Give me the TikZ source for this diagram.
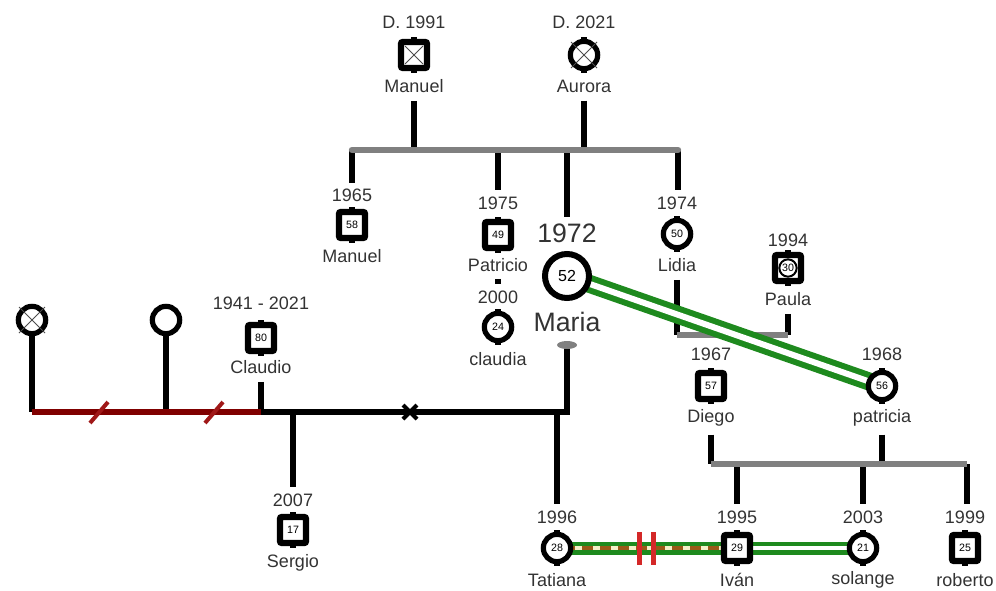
\documentclass[tikz,border=0pt]{standalone}
\usepackage{fontspec}
\setmainfont{Liberation Sans}
\usetikzlibrary{calc,backgrounds,shapes.geometric}
\definecolor{txt}{HTML}{333333}
\definecolor{gbar}{HTML}{808080}
\definecolor{dred}{HTML}{800000}
\definecolor{slashc}{HTML}{A01818}
\definecolor{grn}{HTML}{1E8A1E}
\definecolor{brn}{HTML}{9A5A18}
\definecolor{cream}{HTML}{F4F0C8}
\definecolor{rbar}{HTML}{D42828}
\begin{document}
\begin{tikzpicture}[x=0.75pt,y=-0.75pt,
 lbl/.style={text=txt,font=\fontsize{13.5}{15}\selectfont,inner sep=0pt},
 biglbl/.style={text=txt,font=\fontsize{20}{22}\selectfont,inner sep=0pt},
 sq/.style={draw=black,line width=4.8pt,rectangle,rounded corners=1.5pt,minimum size=19.5pt,inner sep=0pt,font=\fontsize{8}{9}\selectfont,fill=white},
 ci/.style={draw=black,line width=3.9pt,circle,minimum size=20.5pt,inner sep=0pt,font=\fontsize{8}{9}\selectfont,fill=white},
 conn/.style={line width=4.3pt,black},
 gconn/.style={line width=4.8pt,gbar},
 xmark/.style={line width=0.6pt,black!70},
]
\useasboundingbox (0,0) rectangle (996,590);

% ---- grandparents
\node[lbl] (gpMy) at (414,22) {D. 1991};
\node[sq] (gpM) at (414,55) {};
\node[lbl] (gpMn) at (414,86) {Manuel};
\node[lbl] (gpAy) at (584,22) {D. 2021};
\node[ci] (gpA) at (584,55) {};
\node[lbl] (gpAn) at (584,86) {Aurora};
\draw[xmark] ($(gpM.center)+(-9,-9)$) -- ($(gpM.center)+(9,9)$);
\draw[xmark] ($(gpM.center)+(-9,9)$) -- ($(gpM.center)+(9,-9)$);
\draw[xmark] ($(gpA.center)+(-13,-13)$) -- ($(gpA.center)+(13,13)$);
\draw[xmark] ($(gpA.center)+(-13,13)$) -- ($(gpA.center)+(13,-13)$);

% ---- children of Manuel & Aurora
\node[lbl] (manY) at (352,195) {1965};
\node[sq] (manuel) at (352,225) {58};
\node[lbl] (manN) at (352,256) {Manuel};

\node[lbl] (patY) at (498,203) {1975};
\node[sq] (patricio) at (498,235) {49};
\node[lbl] (patN) at (498,265) {Patricio};

\node[lbl] (claY) at (498,297) {2000};
\node[ci] (claudia) at (498,327) {24};
\node[lbl] (claN) at (498,359) {claudia};

\node[biglbl] (marY) at (567,233) {1972};
\node[draw=black,line width=4.5pt,circle,minimum size=33pt,inner sep=0pt,fill=white,font=\fontsize{12}{13}\selectfont] (maria) at (567,276) {52};
\node[biglbl] (marN) at (567,322) {Maria};
\node[ellipse,fill=gbar,minimum width=15pt,minimum height=6pt,inner sep=0pt] (marE) at (567,345) {};

\node[lbl] (lidY) at (677,203) {1974};
\node[ci] (lidia) at (677,234) {50};
\node[lbl] (lidN) at (677,265) {Lidia};

\node[lbl] (pauY) at (788,240) {1994};
\node[sq] (paula) at (788,268) {};
\node[circle,draw=black,line width=1.5pt,fill=white,minimum size=13pt,inner sep=0pt,font=\fontsize{8}{9}\selectfont] (paulaC) at (788,268) {30};
\node[lbl] (pauN) at (788,299) {Paula};

\node[lbl] (dieY) at (711,354) {1967};
\node[sq] (diego) at (711,386) {57};
\node[lbl] (dieN) at (711,418) {Diego};

\node[lbl] (ptaY) at (882,354) {1968};
\node[ci] (patricia) at (882,386) {56};
\node[lbl] (ptaN) at (882,418) {patricia};

% ---- bottom row
\node[lbl] (tatY) at (557,517) {1996};
\node[ci] (tatiana) at (557,548) {28};
\node[lbl] (tatN) at (557,580) {Tatiana};

\node[lbl] (ivaY) at (737,517) {1995};
\node[sq] (ivan) at (737,548) {29};
\node[lbl] (ivaN) at (737,580) {Iván};

\node[lbl] (solY) at (863,517) {2003};
\node[ci] (solange) at (863,548) {21};
\node[lbl] (solN) at (863,580) {solange};

\node[lbl] (robY) at (965,517) {1999};
\node[sq] (roberto) at (965,548) {25};
\node[lbl] (robN) at (965,580) {roberto};

% ---- left part
\node[ci] (lx) at (32,320) {};
\draw[xmark] ($(lx.center)+(-13,-13)$) -- ($(lx.center)+(13,13)$);
\draw[xmark] ($(lx.center)+(-13,13)$) -- ($(lx.center)+(13,-13)$);
\node[ci] (lo) at (166,320) {};
\node[lbl] (cldY) at (261,303) {1941 - 2021};
\node[sq] (claudio) at (261,338) {80};
\node[lbl] (cldN) at (261,367) {Claudio};

\node[lbl] (serY) at (293,500) {2007};
\node[sq] (sergio) at (293,530) {17};
\node[lbl] (serN) at (293,563) {Sergio};

% tabs
\foreach \n in {gpM,gpA,manuel,patricio,claudia,lidia,paula,diego,patricia,tatiana,ivan,solange,roberto,sergio,claudio}{
  \fill (\n.north) ++(-3,-1.5) rectangle ++(6,3);
  \fill (\n.south) ++(-3,-1.5) rectangle ++(6,3);
}

% ---- coordinates
\coordinate (b1L) at (352,150);
\coordinate (b1R) at (678,150);
\coordinate (b2L) at (677,335);
\coordinate (b2R) at (788,335);
\coordinate (b3L) at (711,464);
\coordinate (b3R) at (967,464);
\coordinate (hL) at (32,412);
\coordinate (hC) at (261,412);
\coordinate (hR) at (567,412);

\begin{pgfonlayer}{background}
 \fill[white] (0,0) rectangle (996,590);
 % top family
 \draw[conn] ($(gpMn.south)+(0,8)$) -- (gpMn.south |- b1L);
 \draw[conn] ($(gpAn.south)+(0,8)$) -- (gpAn.south |- b1L);
 \draw[conn] (b1L) -- ($(manY.north)+(0,-5)$);
 \draw[conn] (patY.north |- b1L) -- ($(patY.north)+(0,-6)$);
 \draw[conn] (marY.north |- b1L) -- ($(marY.north)+(0,-6)$);
 \draw[conn] (b1R) -- ($(b1R|-lidY.north)+(0,-6)$);
 \draw[gconn,line cap=round] (b1L) -- (b1R);
 % Patricio -> claudia
 \draw[conn] ($(patN.south)+(0,7)$) -- ($(claY.north)+(0,-6)$);
 % Lidia & Paula
 \draw[conn] ($(lidN.south)+(0,8)$) -- (b2L);
 \draw[conn] ($(pauN.south)+(0,8)$) -- (b2R);
 \draw[gconn] (b2L) -- (b2R);
 % Diego & patricia
 \draw[conn] ($(dieN.south)+(0,8)$) -- (dieN.south |- b3L);
 \draw[conn] ($(ptaN.south)+(0,8)$) -- (ptaN.south |- b3L);
 \draw[conn] (ivaY.north |- b3L) -- ($(ivaY.north)+(0,-6)$);
 \draw[conn] (solY.north |- b3L) -- ($(solY.north)+(0,-6)$);
 \draw[conn] (b3R) -- ($(b3R|-robY.north)+(0,-6)$);
 \draw[gconn] (b3L) -- (b3R);
 % Maria - patricia green double
 \draw[grn,line width=13.5pt] (maria.center) -- (patricia.center);
 \draw[white,line width=4.5pt] (maria.center) -- (patricia.center);
 % left family
 \draw[conn] (lx.center) -- (hL);
 \draw[conn] (lo.center) -- (lo.center |- hL);
 \draw[conn] ($(cldN.south)+(0,8)$) -- (hC);
 \draw[conn] (serY.north |- hC) -- ($(serY.north)+(0,-6)$);
 \draw[conn] (tatY.north |- hC) -- ($(tatY.north)+(0,-6)$);
 \draw[conn] (hC) -- (hR) -- (marE.center);
 \draw[dred,line width=4.8pt] (hL) -- (hC);
 \draw[slashc,line width=3pt] ($(hL)+(58,11)$) -- ($(hL)+(76,-10)$);
 \draw[slashc,line width=3pt] ($(hL)+(173,11)$) -- ($(hL)+(191,-10)$);
 \draw[black,line width=3pt] (403,405) -- (417,419) (403,419) -- (417,405);
 % Tatiana - Ivan
 \draw[grn,line width=9.75pt] (tatiana.center) -- (ivan.center);
 \draw[brn,line width=3pt] (tatiana.center) -- (ivan.center);
 \draw[cream,line width=3pt,dash pattern=on 5pt off 8.5pt] (tatiana.center) -- (ivan.center);
 % Ivan - solange
 \draw[grn,line width=9.75pt] (ivan.center) -- (solange.center);
 \draw[white,line width=3pt] (ivan.center) -- (solange.center);
\end{pgfonlayer}
\draw[rbar,line width=3.75pt] (639,532) -- (639,565) (653,532) -- (653,565);
\end{tikzpicture}
\end{document}
